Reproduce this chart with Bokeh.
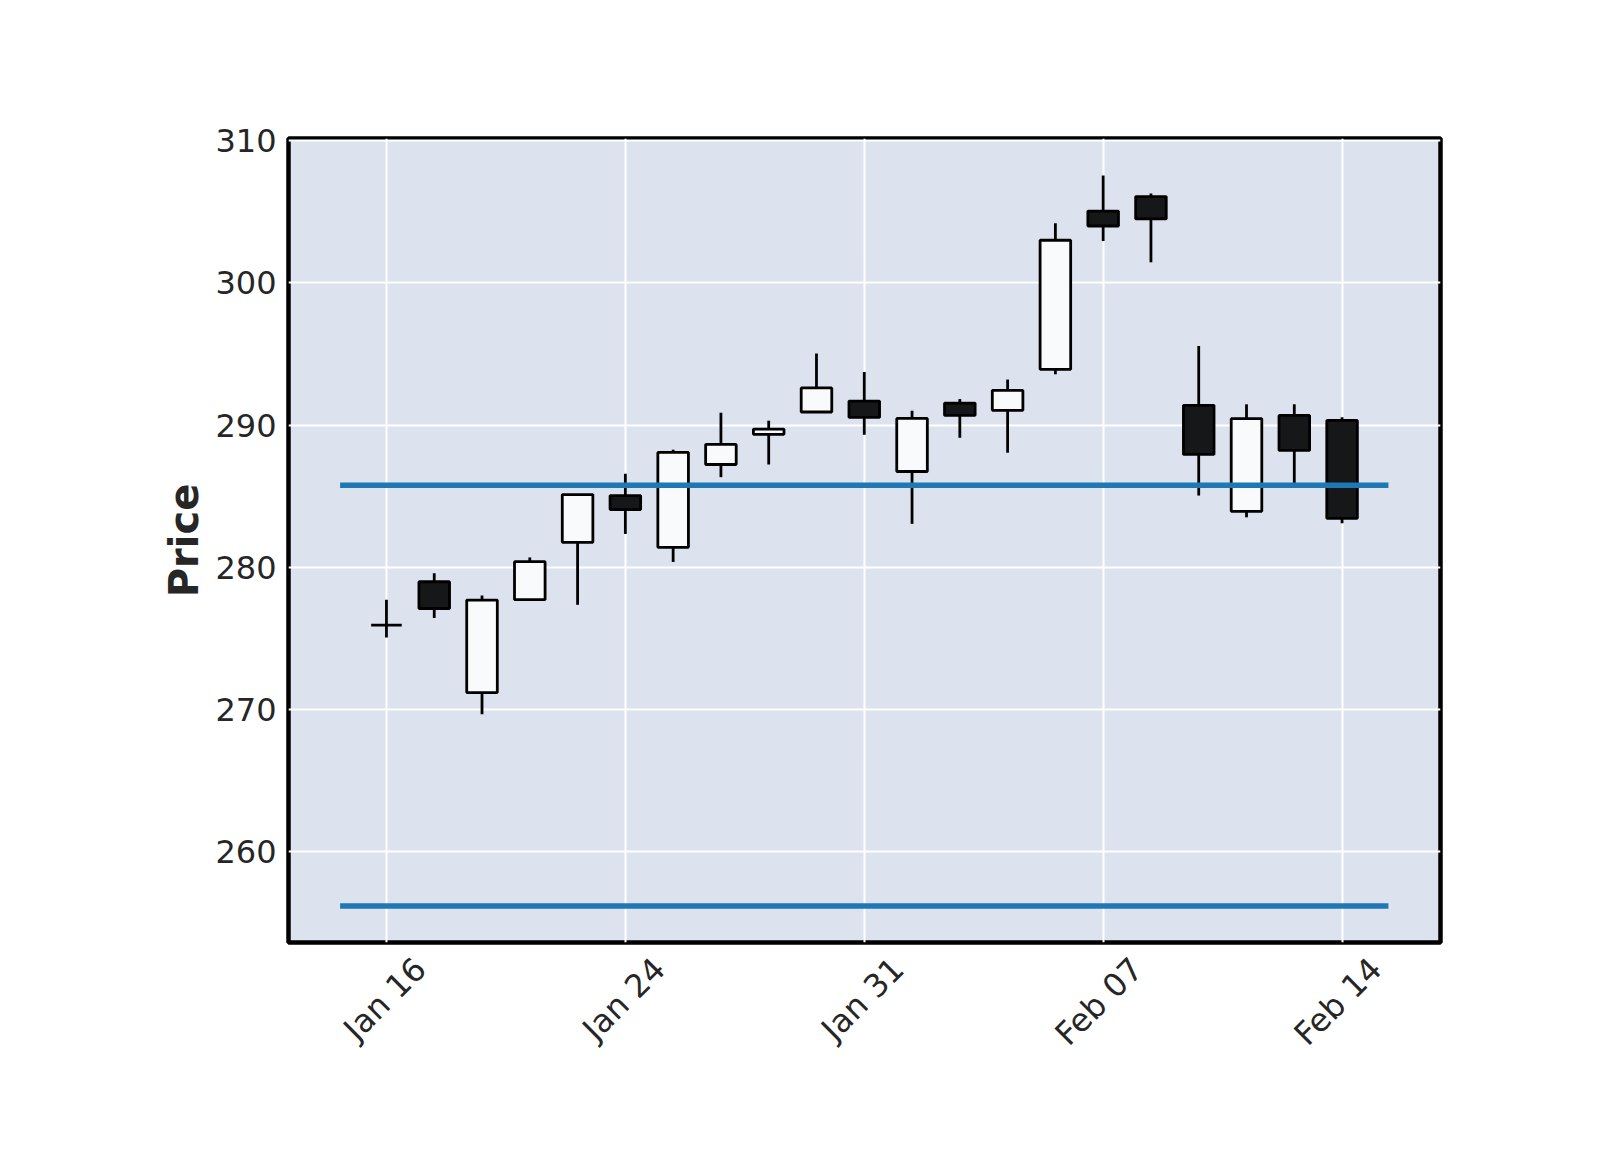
import math
from bokeh.plotting import figure
from bokeh.models import Range1d, FixedTicker, ColumnDataSource, LinearAxis
from bokeh.embed import file_html
from bokeh.resources import INLINE

# ---- data ----
dates = ["Jan 16", "Jan 17", "Jan 21", "Jan 22", "Jan 23", "Jan 24", "Jan 27",
         "Jan 28", "Jan 29", "Jan 30", "Jan 31", "Feb 03", "Feb 04", "Feb 05",
         "Feb 06", "Feb 07", "Feb 10", "Feb 11", "Feb 12", "Feb 13", "Feb 14"]
opens = [275.94, 278.99, 271.20, 277.73, 281.76, 285.05, 281.41, 287.23, 289.35, 290.92,
         291.69, 286.74, 291.55, 291.04, 293.92, 305.04, 306.06, 291.39, 283.94, 290.68, 290.33]
highs = [277.73, 279.58, 278.03, 280.70, 285.12, 286.58, 288.27, 290.87, 290.31, 295.03,
         293.73, 291.01, 291.83, 293.20, 304.18, 307.54, 306.27, 295.56, 291.46, 291.46, 290.56]
lows = [275.07, 276.44, 269.68, 277.73, 277.37, 282.35, 280.38, 286.34, 287.23, 290.92,
        289.32, 283.06, 289.11, 288.06, 293.57, 302.94, 301.44, 285.05, 283.52, 285.87, 283.10]
closes = [275.94, 277.11, 277.70, 280.40, 285.12, 284.06, 288.08, 288.64, 289.72, 292.61,
          290.54, 290.47, 290.68, 292.44, 302.99, 303.99, 304.49, 287.94, 290.45, 288.22, 283.45]
tick_positions = [0, 5, 10, 15, 20]
y_ticks = [260, 270, 280, 290, 300, 310]
hline_levels = [285.77, 256.2]
hline_start = -0.97
hline_end = 20.97

# ---- build ----
idx = list(range(len(dates)))
up_face = "#F9FAFC"
down_face = "#161718"
src = ColumnDataSource(dict(
    x=idx,
    high=highs,
    low=lows,
    top=[max(o, c) for o, c in zip(opens, closes)],
    bottom=[min(o, c) for o, c in zip(opens, closes)],
    face=[up_face if c >= o else down_face for o, c in zip(opens, closes)],
))

x_lo, x_hi = -2.05, 22.06
y_lo, y_hi = 253.64, 310.14
p = figure(width=1600, height=1150, output_backend="svg", toolbar_location=None,
           x_range=Range1d(x_lo, x_hi), y_range=Range1d(y_lo, y_hi),
           min_border_left=288, min_border_right=160, min_border_top=138,
           min_border_bottom=208)
p.background_fill_color = "#DCE3EF"
p.border_fill_color = "white"
p.outline_line_color = "black"
p.outline_line_width = 4.5
p.outline_line_alpha = 1.0

p.xgrid.ticker = FixedTicker(ticks=tick_positions)
p.xgrid.grid_line_color = "white"
p.ygrid.grid_line_color = "white"
p.xgrid.grid_line_width = 2
p.ygrid.grid_line_width = 2

p.segment(x0="x", y0="low", x1="x", y1="high", source=src, line_color="black", line_width=2.8)
p.vbar(x="x", width=0.64, top="top", bottom="bottom", source=src,
       fill_color="face", line_color="black", line_width=2.8)

for lvl in hline_levels:
    p.segment(x0=[hline_start], y0=[lvl], x1=[hline_end], y1=[lvl],
              line_color="#1f77b4", line_width=5.5)

# Bokeh anchors rotated labels by their end; matplotlib centres them on the tick.
# A label axis on a slightly shifted copy of the x range reproduces the centring.
shift = 0.71
p.extra_x_ranges = {"labels": Range1d(x_lo - shift, x_hi - shift)}
p.xaxis.visible = False
xax = LinearAxis(x_range_name="labels", ticker=FixedTicker(ticks=tick_positions))
xax.major_label_overrides = {i: dates[i] for i in tick_positions}
xax.major_label_orientation = math.pi / 4
p.add_layout(xax, "below")

p.yaxis.ticker = FixedTicker(ticks=y_ticks)

for ax in (xax, p.yaxis[0]):
    ax.axis_line_color = None
    ax.major_tick_line_color = None
    ax.minor_tick_line_color = None
    ax.major_tick_out = 0
    ax.major_tick_in = 0
    ax.major_label_text_font = "DejaVu Sans"
    ax.major_label_text_font_size = "32px"
    ax.major_label_text_color = "#262626"
    ax.major_label_standoff = 12

xax.major_label_standoff = 21

p.yaxis.axis_label = "Price"
p.yaxis.axis_label_text_font = "DejaVu Sans"
p.yaxis.axis_label_text_font_size = "40px"
p.yaxis.axis_label_text_font_style = "bold"
p.yaxis.axis_label_text_color = "#262626"
p.yaxis.axis_label_standoff = 5

open("out.html", "w").write(file_html(p, INLINE))
